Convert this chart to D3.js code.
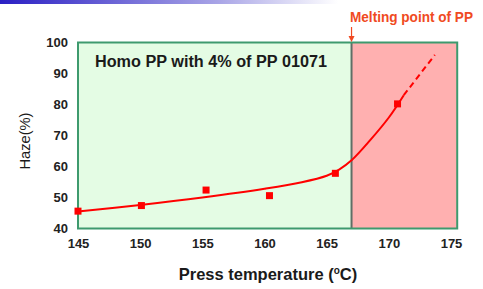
<!DOCTYPE html>
<html>
<head>
<meta charset="utf-8">
<script src="https://cdn.jsdelivr.net/npm/d3@7"></script>
<style>
  body { margin: 0; background: #fff; }
  svg { display: block; font-family: "Liberation Sans", Arial, sans-serif; }
</style>
</head>
<body>
<svg id="mainSVG" width="483" height="289"></svg>
<script>
// measured points
var temps = [145, 150.1, 155.3, 160.4, 165.7, 170.7];
var haze = [45.6, 47.4, 52.4, 50.6, 57.8, 80.2];

// fitted curve, solid part then dashed extrapolation
var fitTemps = [145, 150, 155, 160, 163, 165, 166, 167, 168.5, 170, 171.2];
var fitHaze = [45.5, 47.6, 50.0, 52.8, 54.9, 57.0, 59.0, 62.0, 68.5, 75.8, 83.0];
var dashTemps = [171.2, 173.7];
var dashHaze = [83.0, 96.0];

var xTicks = [145, 150, 155, 160, 165, 170, 175];
var yTicks = [40, 50, 60, 70, 80, 90, 100];
var meltT = 167;

var svg = d3.select('#mainSVG');

// blue band at top of the slide
var grad = svg.append('defs').append('linearGradient').attr('id', 'topGrad');
grad.append('stop').attr('offset', '0%').attr('stop-color', '#2a1fc4');
grad.append('stop').attr('offset', '45%').attr('stop-color', '#a8a4e6');
grad.append('stop').attr('offset', '70%').attr('stop-color', '#ffffff');
svg.append('rect').attr('x', 0).attr('y', 0).attr('width', 483).attr('height', 4)
  .attr('fill', 'url(#topGrad)');

var x = d3.scaleLinear().domain([145, 175]).range([78, 451]);
var y = d3.scaleLinear().domain([40, 100]).range([228.5, 42.5]);
var xRight = 175.5;

// regions
svg.append('rect').attr('x', x(145)).attr('y', y(100))
  .attr('width', x(meltT) - x(145)).attr('height', y(40) - y(100))
  .attr('fill', '#e4fce4');
svg.append('rect').attr('x', x(meltT)).attr('y', y(100))
  .attr('width', x(xRight) - x(meltT)).attr('height', y(40) - y(100))
  .attr('fill', '#ffb0b0');
svg.append('line').attr('x1', x(meltT)).attr('x2', x(meltT))
  .attr('y1', y(100)).attr('y2', y(40))
  .attr('stroke', '#5f6f66').attr('stroke-width', 2);
svg.append('rect').attr('x', x(145)).attr('y', y(100))
  .attr('width', x(xRight) - x(145)).attr('height', y(40) - y(100))
  .attr('fill', 'none').attr('stroke', '#3e9a6e').attr('stroke-width', 2);

// axes (labels only)
var xAxis = svg.append('g').attr('transform', 'translate(0,' + (y(40) + 4) + ')')
  .call(d3.axisBottom(x).tickValues(xTicks).tickSize(0).tickPadding(6));
var yAxis = svg.append('g').attr('transform', 'translate(' + (x(145) - 10) + ',0)')
  .call(d3.axisLeft(y).tickValues(yTicks).tickSize(0).tickPadding(0));
[xAxis, yAxis].forEach(function(g) {
  g.select('.domain').remove();
  g.selectAll('text').attr('font-size', 13).attr('font-weight', 'bold')
    .attr('fill', '#222').attr('font-family', '"Liberation Sans", Arial, sans-serif');
});

// curve
var line = d3.line().x(function(d) { return x(d[0]); }).y(function(d) { return y(d[1]); })
  .curve(d3.curveCatmullRom);
svg.append('path').datum(d3.zip(fitTemps, fitHaze)).attr('d', line)
  .attr('fill', 'none').attr('stroke', '#ff0000').attr('stroke-width', 2);
svg.append('path').datum(d3.zip(dashTemps, dashHaze)).attr('d', line)
  .attr('fill', 'none').attr('stroke', '#ff0000').attr('stroke-width', 2)
  .attr('stroke-dasharray', '6,4');

svg.selectAll('rect.pt').data(d3.zip(temps, haze)).enter().append('rect')
  .attr('class', 'pt')
  .attr('x', function(d) { return x(d[0]) - 3.5; })
  .attr('y', function(d) { return y(d[1]) - 3.5; })
  .attr('width', 7).attr('height', 7).attr('fill', '#ff0000');

// texts
svg.append('text').attr('x', 95).attr('y', 67)
  .attr('font-size', 16).attr('font-weight', 'bold').attr('fill', '#1a1a1a')
  .attr('textLength', 232).attr('lengthAdjust', 'spacingAndGlyphs')
  .text('Homo PP with 4% of PP 01071');

svg.append('text').attr('x', 350).attr('y', 22)
  .attr('font-size', 14).attr('font-weight', 'bold').attr('fill', '#f04a22')
  .attr('textLength', 123).attr('lengthAdjust', 'spacingAndGlyphs')
  .text('Melting point of PP');

svg.append('line').attr('x1', x(meltT)).attr('x2', x(meltT))
  .attr('y1', 27).attr('y2', 38).attr('stroke', '#f04a22').attr('stroke-width', 1.2);
svg.append('path')
  .attr('d', 'M' + (x(meltT) - 3) + ',36 L' + (x(meltT) + 3) + ',36 L' + x(meltT) + ',42 Z')
  .attr('fill', '#f04a22');

svg.append('text').attr('transform', 'translate(30,141) rotate(-90)')
  .attr('text-anchor', 'middle').attr('font-size', 14).attr('fill', '#1a1a1a')
  .attr('textLength', 57).attr('lengthAdjust', 'spacingAndGlyphs')
  .text('Haze(%)');

var xt = svg.append('text').attr('x', 268).attr('y', 280).attr('text-anchor', 'middle')
  .attr('font-size', 16.5).attr('font-weight', 'bold').attr('fill', '#1a1a1a');
xt.append('tspan').text('Press temperature (');
xt.append('tspan').attr('font-size', 10).attr('dy', -6).text('o');
xt.append('tspan').attr('dy', 6).text('C)');
</script>
</body>
</html>
